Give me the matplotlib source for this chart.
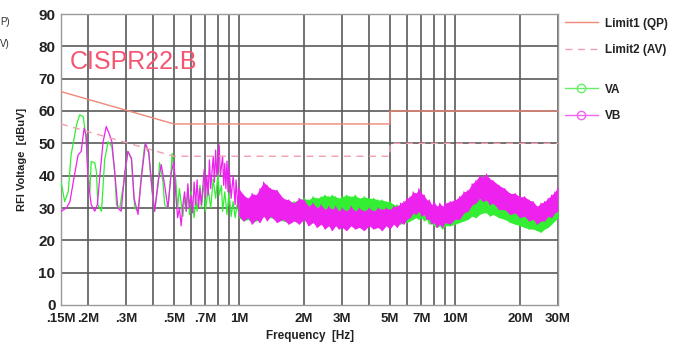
import numpy as np
import matplotlib
matplotlib.use("Agg")
import matplotlib.pyplot as plt
from matplotlib.lines import Line2D

plt.rcParams['font.family'] = ['Liberation Sans', 'DejaVu Sans']

# limit lines (CISPR22 class B)
qp_f = [0.15, 0.5, 5, 5, 30]
qp_v = [66, 56, 56, 60, 60]
av_f = [0.15, 0.5, 5, 5, 30]
av_v = [56, 46, 46, 50, 50]

# low frequency traces (MHz, dBuV)
va_lf_f = [0.150, 0.156, 0.162, 0.167, 0.177, 0.183, 0.190, 0.196, 0.200, 0.204,
           0.207, 0.215, 0.219, 0.222, 0.231, 0.239, 0.248, 0.258, 0.266, 0.271,
           0.280, 0.296, 0.306, 0.318, 0.329, 0.341, 0.353, 0.366, 0.382, 0.396,
           0.407, 0.422, 0.429, 0.445, 0.453, 0.469, 0.486, 0.49, 0.50, 0.51,
           0.52, 0.53, 0.55, 0.56, 0.57, 0.58, 0.59, 0.60, 0.62, 0.63,
           0.64, 0.66, 0.67, 0.69, 0.70, 0.72, 0.74, 0.76, 0.78, 0.80,
           0.81, 0.83, 0.84, 0.86, 0.88, 0.90, 0.92, 0.94, 0.96, 0.98, 1.00]
va_lf_v = [38.2, 32, 35, 46.4, 55.7, 58.8, 58.3, 51.6, 41.3, 35,
           44.4, 44, 41, 31, 29, 45, 50.5, 49, 41, 31,
           29.5, 40, 47.5, 45, 30, 29, 40, 49.5, 47, 35,
           29, 37, 44, 38, 31, 30, 42, 46.9, 42, 38.7,
           30, 36, 27.4, 33.6, 29, 36, 28, 35, 27, 33,
           29, 37, 30, 38, 29, 36, 30, 39, 33, 40.7,
           34, 37, 29, 35, 28, 34.6, 27.4, 32, 27, 31, 28]

vb_lf_f = [0.1505, 0.159, 0.165, 0.174, 0.180, 0.186, 0.192, 0.196, 0.200, 0.207,
           0.215, 0.221, 0.227, 0.235, 0.243, 0.252, 0.258, 0.266, 0.275, 0.285,
           0.296, 0.306, 0.318, 0.327, 0.341, 0.353, 0.369, 0.382, 0.396, 0.407,
           0.422, 0.437, 0.453, 0.469, 0.486, 0.50, 0.51, 0.52, 0.53, 0.54,
           0.55, 0.56, 0.57, 0.58, 0.59, 0.60, 0.61, 0.62, 0.63, 0.64,
           0.65, 0.66, 0.67, 0.69, 0.70, 0.71, 0.72, 0.73, 0.74, 0.76,
           0.77, 0.78, 0.79, 0.81, 0.82, 0.84, 0.85, 0.86, 0.87, 0.88,
           0.89, 0.90, 0.92, 0.94, 0.96, 0.97, 0.99, 1.00]
vb_lf_v = [29, 30, 32, 41, 46.4, 47.5, 54.7, 52.6, 39, 31,
           29, 31, 40, 50.5, 55.2, 52.6, 50.5, 41, 30, 29,
           41, 47.5, 45.4, 33, 28, 39, 50, 47.5, 36, 29,
           38, 43.4, 37, 30, 41, 44.4, 34, 27, 30, 24.5,
           31, 35, 29, 37.5, 30, 34, 28.5, 38, 31, 38.7,
           30, 36, 31, 41.8, 33, 40, 34, 44.9, 36, 46,
           38, 47.9, 40, 49.5, 40, 46, 37, 43.8, 36, 44.5,
           35, 42.8, 33, 40, 31, 38.7, 30, 36]

# high frequency noise bands: lower / upper edge of each trace
band_f = [1.0, 1.05, 1.1, 1.15, 1.2, 1.25, 1.3, 1.35, 1.4,
          1.5, 1.6, 1.7, 1.8, 1.9, 2.0,
          2.1, 2.2, 2.3, 2.4, 2.5, 2.6, 2.7, 2.8, 2.9, 3.0,
          3.15, 3.3, 3.45, 3.6,
          3.8, 4.0, 4.2, 4.4, 4.6, 4.8, 5.0, 5.2, 5.4, 5.6, 5.8, 6.0,
          6.2, 6.4, 6.6, 6.8, 7.0, 7.2, 7.4, 7.6, 7.8, 8.0,
          8.25, 8.5, 8.75, 9.0, 9.5, 10,
          10.5, 11, 11.5, 12, 12.5, 13, 13.5, 14, 14.5, 15,
          16, 17, 18, 19, 20, 21, 22, 23, 24, 25, 26, 27, 28, 29, 30]
vb_lo = [27.5, 26, 27, 25, 26.5, 25.5, 27.5, 26, 27.5,
         25.5, 26.5, 25, 26, 25, 26.5,
         24.5, 25.5, 24, 25, 23.5, 24.5, 23, 24.5, 23.5, 24,
         23, 24.5, 23.5, 24,
         23, 24.5, 23.5, 24, 23, 24.5, 23.5, 25, 24, 25.5, 25, 26.5,
         27, 28.5, 28, 29, 27.5, 28, 26.5, 26.5, 25, 25.5,
         24, 25, 24, 25.5, 25, 26.5,
         26.5, 28.5, 29, 31, 31.5, 33, 32, 32.5, 31, 31.5,
         29.5, 29.5, 28, 28.5, 27, 27.5, 26, 26.5, 25, 26, 26, 27.5, 27, 28.5, 29]
vb_hi = [36, 34, 33, 34.5, 34, 36, 38, 37, 36,
         35.5, 33, 32.5, 31.5, 33, 32.5,
         30.5, 31.5, 30, 31, 29.5, 30.5, 29.5, 30.5, 29, 30,
         29, 30.5, 29, 30,
         29, 30, 29, 30, 29.5, 30, 29.5, 30.5, 30.5, 31.5, 32, 33,
         33.5, 35, 34.5, 36, 34.5, 34, 32.5, 32.5, 31, 32,
         30.5, 31.5, 30.5, 31.5, 32, 32.5,
         33.5, 35, 35.5, 37.5, 38.5, 40, 39.5, 40.5, 39, 38.5,
         37, 36, 34.5, 34.5, 33.5, 33.5, 32.5, 32, 30.5, 31.5, 32, 33, 34, 35, 36.5]
va_lo = [27, 26, 26.5, 25.5, 26, 26.5, 27.5, 27, 27,
         26.5, 26, 25.5, 26.5, 26, 27,
         27, 27.5, 26.5, 27.5, 27, 26.5, 27, 27.5, 26.5, 27,
         27.5, 26.5, 27.5, 27,
         26.5, 27, 26, 26.5, 25.5, 26, 25, 25.5, 25, 25, 25.5, 25.5,
         26, 26.5, 27, 26.5, 27, 26, 26.5, 25, 25.5, 24.5,
         24, 24.5, 23.5, 24.5, 24.5, 25,
         25.5, 26, 26.5, 27.5, 27, 28, 28.5, 28.5, 27.5, 28,
         27, 26.5, 25.5, 25, 24.5, 24, 23.5, 23.5, 23, 22.5, 23.5, 24, 25, 26, 27]
va_hi = [32, 31, 31.5, 30.5, 31, 31.5, 31.5, 31, 31,
         30.5, 31, 31.5, 32, 32.5, 33,
         32.5, 33.5, 33, 33.5, 34, 33.5, 34, 33.5, 33, 33.5,
         34, 33.5, 34, 33,
         33.5, 33, 33, 32.5, 32.5, 32, 32, 31, 31, 30.5, 31, 31,
         31.5, 32, 32.5, 33, 32.5, 32, 31.5, 31, 30.5, 30,
         30, 30.5, 29.5, 30, 30.5, 30.5,
         31, 31.5, 32, 33, 33.5, 34, 34.5, 34.5, 34, 34,
         33, 32, 31, 30, 30, 29.5, 28.5, 28.5, 28, 28, 28.5, 29.5, 31, 32, 33.5]

xticks = [0.15, 0.2, 0.3, 0.5, 0.7, 1, 2, 3, 5, 7, 10, 20, 30]
xticklabels = ['.15M', '.2M', '.3M', '.5M', '.7M', '1M', '2M', '3M', '5M', '7M', '10M', '20M', '30M']
xgrid = [0.15, 0.2, 0.3, 0.4, 0.5, 0.6, 0.7, 0.8, 0.9, 1, 2, 3, 4, 5, 6, 7, 8, 9, 10, 20, 30]

green = '#33ee33'
magenta = '#ee22ee'

fig = plt.figure(figsize=(6.83, 3.51), dpi=100)
ax = fig.add_axes([61 / 683, 46 / 351, 497 / 683, 291 / 351])
ax.set_xscale('log')
ax.set_xlim(0.15, 30)
ax.set_ylim(0, 90)

for g in xgrid:
    ax.axvline(g, color='#5a5a5a', lw=1.2, zorder=1)
for g in range(10, 90, 10):
    ax.axhline(g, color='#5a5a5a', lw=1.2, zorder=1)

# VA
ax.plot(va_lf_f, va_lf_v, color=green, lw=0.9, zorder=3)
ax.fill_between(band_f, va_lo, va_hi, color=green, lw=0, zorder=3)
ax.plot(np.repeat(band_f, 2), np.column_stack([va_lo, va_hi]).ravel(), color=green, lw=0.8, zorder=3)

# VB
ax.plot(vb_lf_f, vb_lf_v, color=magenta, lw=0.9, zorder=4)
ax.fill_between(band_f, vb_lo, vb_hi, color=magenta, lw=0, zorder=4)
ax.plot(np.repeat(band_f, 2), np.column_stack([vb_lo, vb_hi]).ravel(), color=magenta, lw=0.8, zorder=4)

ax.plot(qp_f, qp_v, color='#f08878', lw=1.0, zorder=5)
ax.plot(av_f, av_v, color='#f0a0b0', lw=1.0, ls=(0, (5, 4)), zorder=5)

ax.set_xticks(xticks)
ax.set_xticklabels(xticklabels)
ax.minorticks_off()
ax.set_yticks(range(0, 91, 10))
ax.tick_params(length=0, labelsize=9.5, colors='#222222')
ax.tick_params(axis='x', pad=6)
ax.tick_params(axis='y', labelsize=11, pad=4)
for lab in ax.get_xticklabels() + ax.get_yticklabels():
    lab.set_fontweight('bold')
for s in ax.spines.values():
    s.set_color('#999999')
    s.set_linewidth(1.0)

ax.set_xlabel('Frequency  [Hz]', fontsize=8.5, fontweight='bold', color='#222222', labelpad=3)
ax.set_ylabel('RFI Voltage  [dBuV]', fontsize=8, fontweight='bold', color='#222222', labelpad=8)

ax.text(0.018, 0.835, 'CISPR22.B', transform=ax.transAxes, fontsize=18,
        color='#f65572', va='center', ha='left')

# legends outside right
lim_handles = [Line2D([], [], color='#f08878', lw=1.0),
               Line2D([], [], color='#f0a0b0', lw=1.0, ls=(0, (5, 4)))]
leg1 = fig.legend(lim_handles, ['Limit1 (QP)', 'Limit2 (AV)'], loc='upper left',
                  bbox_to_anchor=(554 / 683, 1 - 7 / 351), frameon=False,
                  fontsize=8.5, handlelength=2.8, labelspacing=1.2, handletextpad=0.6)
tr_handles = [Line2D([], [], color='#66ee66', lw=1.0, marker='o', mfc='none', ms=6),
              Line2D([], [], color='#ee66ee', lw=1.0, marker='o', mfc='none', ms=6)]
leg2 = fig.legend(tr_handles, ['VA', 'VB'], loc='upper left',
                  bbox_to_anchor=(554 / 683, 1 - 73 / 351), frameon=False,
                  fontsize=8.5, handlelength=2.8, labelspacing=1.2, handletextpad=0.6)
for leg in (leg1, leg2):
    for t in leg.get_texts():
        t.set_fontweight('bold')
        t.set_color('#222222')

# leftover text fragments at the left edge
fig.text(0, 1 - 22 / 351, 'P)', ha='left', va='center', fontsize=7, color='#333333')
fig.text(0, 1 - 44 / 351, 'V)', ha='left', va='center', fontsize=7, color='#333333')

fig.savefig('out.png', dpi=100)
